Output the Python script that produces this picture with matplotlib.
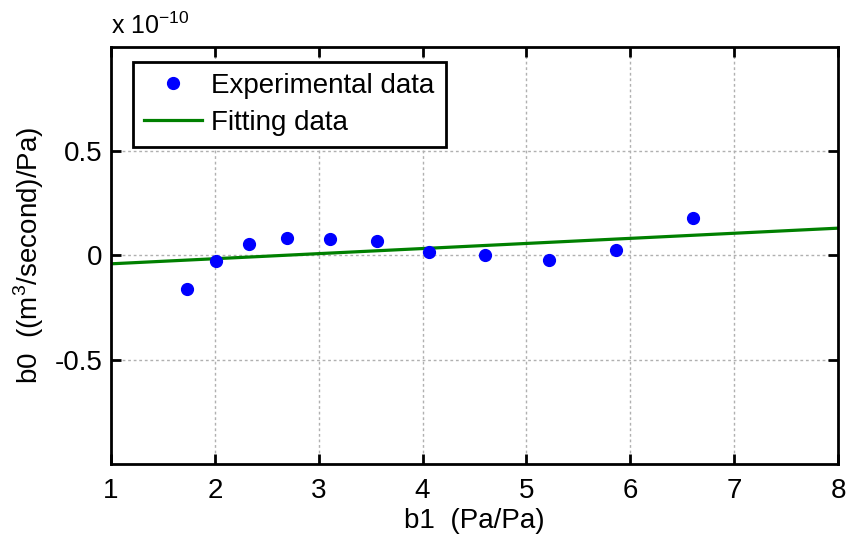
import numpy as np
import matplotlib.pyplot as plt

plt.rcParams['font.family'] = ['Liberation Sans', 'DejaVu Sans']
plt.rcParams['mathtext.fontset'] = 'custom'
plt.rcParams['mathtext.rm'] = 'Liberation Sans'

# experimental points (b1, b0)
b1 = [1.73, 2.01, 2.33, 2.69, 3.11, 3.56, 4.06, 4.60, 5.22, 5.86, 6.60]
b0 = [-0.159e-10, -0.028e-10, 0.057e-10, 0.086e-10, 0.078e-10, 0.069e-10,
      0.019e-10, 0.0, -0.022e-10, 0.026e-10, 0.178e-10]

# fitted line endpoints
fit_x = [1, 8]
fit_y = [-0.040e-10, 0.131e-10]

scale = 1e-10

fig = plt.figure(figsize=(8.5, 5.37), dpi=100)
ax = fig.add_axes([0.1306, 0.136, 0.8554, 0.7765])

ax.plot(b1, np.array(b0) / scale, 'o', color='#0000ff', markersize=8.5,
        label='Experimental data', zorder=3)
ax.plot(fit_x, np.array(fit_y) / scale, '-', color='#008000', linewidth=2.3,
        label='Fitting data', zorder=2)

ax.set_xlim(1, 8)
ax.set_ylim(-1, 1)
ax.set_xticks(range(1, 9))
ax.set_yticks([-0.5, 0, 0.5])
ax.set_yticklabels(['-0.5', '0', '0.5'])
ax.grid(True, color='#b0b0b0', linestyle=(0, (2, 2)), linewidth=1)
ax.tick_params(direction='in', length=7, width=2, labelsize=20,
               top=True, right=True)
ax.tick_params(axis='x', pad=10)
ax.tick_params(axis='y', pad=6)
for s in ax.spines.values():
    s.set_linewidth(2)

ax.set_xlabel('b1  (Pa/Pa)', fontsize=20, labelpad=3)
ax.set_ylabel('b0  ((m$^3$/second)/Pa)', fontsize=20, labelpad=6)
ax.text(0.0, 1.02, 'x 10$^{-10}$', transform=ax.transAxes, fontsize=18,
        ha='left', va='bottom')

leg = ax.legend(loc='upper left', bbox_to_anchor=(0.0303, 0.964),
                borderaxespad=0, fontsize=20, fancybox=False, framealpha=1,
                edgecolor='black', handlelength=2.1, handletextpad=0.32,
                borderpad=0.4, labelspacing=0.38)
leg.get_frame().set_linewidth(2)

fig.savefig('out.png', dpi=100)
